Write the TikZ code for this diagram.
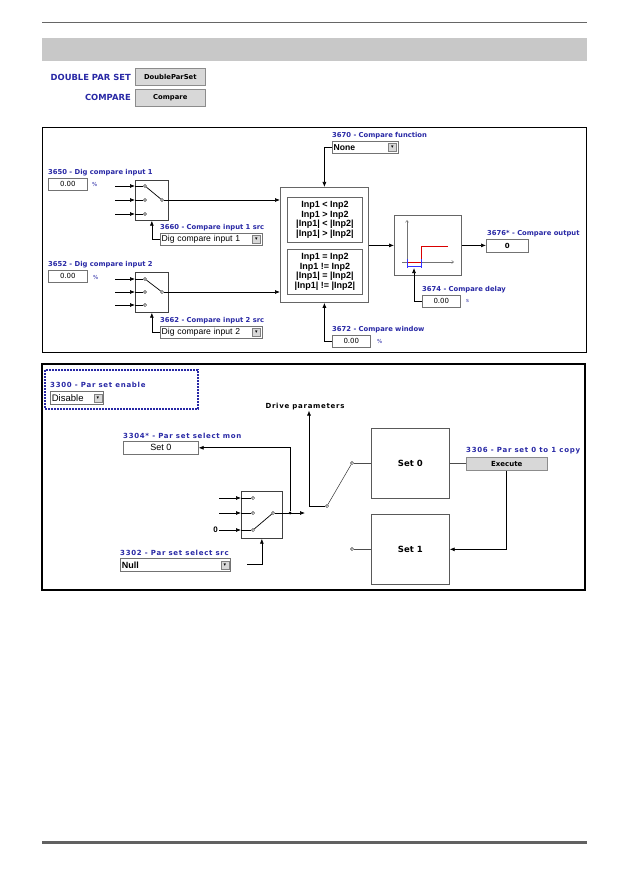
\documentclass[tikz,border=0pt]{standalone}
\usepackage{fontspec}
\setmainfont{DejaVu Sans}
\newfontfamily\arialf{Liberation Sans}
\newfontfamily\widef[LetterSpace=10]{DejaVu Sans}
\usetikzlibrary{arrows.meta}
\definecolor{lblue}{RGB}{40,40,165}
\definecolor{bargray}{RGB}{200,200,200}
\definecolor{btngray}{RGB}{216,216,216}
\tikzset{
  arr/.style={-{Latex[length=5pt,width=4pt]}, line width=0.7pt},
  ln/.style={line width=0.7pt},
  lblA/.style={text=lblue, font=\fontsize{6.8}{7}\selectfont\bfseries, inner sep=0pt},
  lblB/.style={text=lblue, font=\widef\fontsize{7}{8}\selectfont\bfseries, inner sep=0pt},
  unit/.style={text=lblue, font=\fontsize{5.5}{6}\selectfont, inner sep=0pt},
  field/.style={draw=black!55, fill=white, line width=0.6pt, inner sep=0pt, font=\fontsize{7}{8}\selectfont},
  dd/.style={draw=black!55, fill=white, line width=0.6pt, inner sep=0pt, align=left, text width=#1, font=\arialf\fontsize{8.6}{9}\selectfont},
  ddbtn/.style={draw=black!50, fill=btngray, minimum size=8pt, inner sep=0pt, font=\fontsize{5}{5}\selectfont},
  btn/.style={draw=black!45, fill=btngray, line width=0.6pt, inner sep=0pt, font=\fontsize{6.8}{7}\selectfont\bfseries},
  mux/.style={draw=black!75, line width=0.7pt, inner sep=0pt},
  box/.style={draw=black!60, line width=0.8pt, inner sep=0pt},
  ibox/.style={draw=black!60, line width=0.8pt, inner sep=0pt, align=center, font=\arialf\fontsize{9}{9.7}\selectfont\bfseries},
  sbox/.style={draw=black!65, line width=0.7pt, inner sep=0pt, font=\fontsize{8.5}{9}\selectfont\bfseries},
  pin/.style={draw=black!80, fill=white, line width=0.5pt, circle, inner sep=0pt, minimum size=3.2pt},
  hdr/.style={text=lblue, font=\fontsize{8.4}{9}\selectfont\bfseries, inner sep=0pt},
}
\begin{document}
\begin{tikzpicture}[x=1pt,y=-1pt]
\useasboundingbox (0,0) rectangle (629,893);
% page decoration
\draw[black!60, line width=0.8pt] (42,22) -- (587,22);
\fill[bargray] (42,38) rectangle (587,61);
\fill[black!62] (42,841) rectangle (587,844);

% header buttons
\node[hdr, anchor=east] (hdp) at (131,77) {DOUBLE PAR SET};
\node[btn, minimum width=70pt, minimum height=17pt, anchor=north west] (bdp) at (135,68) {DoubleParSet};
\node[hdr, anchor=east] (hcmp) at (131,97.5) {COMPARE};
\node[btn, minimum width=70pt, minimum height=17pt, anchor=north west] (bcmp) at (135,89) {Compare};

%================ diagram 1 =================
\draw[line width=1pt] (42,128) rectangle (586,352);

% input 1
\node[lblA, anchor=south west] (l3650) at (48,176) {3650 - Dig compare input 1};
\node[field, minimum width=39pt, minimum height=12pt, anchor=north west] (f3650) at (48,178) {0.00};
\node[unit, anchor=west] (u3650) at (92,184) {\%};
\node[mux, minimum width=33pt, minimum height=40pt, anchor=north west] (m1) at (135,180) {};
\foreach \yy/\n in {186/a,200/b,214/c}{
  \coordinate (m1s\n) at (115,\yy);
  \node[pin] (m1p\n) at (145,\yy) {};
  \draw[arr] (m1s\n) -- (m1s\n -| m1.west);
  \draw[ln] (m1s\n -| m1.west) -- (m1p\n);
}
\node[pin] (m1o) at (162,200) {};
\draw[ln] (m1pa) -- (m1o);
\node[lblA, anchor=south west] (l3660) at (160,231) {3660 - Compare input 1 src};
\node[dd=102pt, minimum height=12pt, anchor=north west] (d3660) at (160,233) {\,Dig compare input 1};
\node[ddbtn, anchor=east] (d3660b) at ([xshift=-2pt]d3660.east) {▾};
\draw[arr] (d3660.west) -| (m1.south);

% input 2
\node[lblA, anchor=south west] (l3652) at (48,268) {3652 - Dig compare input 2};
\node[field, minimum width=39pt, minimum height=12pt, anchor=north west] (f3652) at (48,270) {0.00};
\node[unit, anchor=west] (u3652) at (93,277) {\%};
\node[mux, minimum width=33pt, minimum height=40pt, anchor=north west] (m2) at (135,272) {};
\foreach \yy/\n in {279/a,292/b,305/c}{
  \coordinate (m2s\n) at (115,\yy);
  \node[pin] (m2p\n) at (145,\yy) {};
  \draw[arr] (m2s\n) -- (m2s\n -| m2.west);
  \draw[ln] (m2s\n -| m2.west) -- (m2p\n);
}
\node[pin] (m2o) at (162,292) {};
\draw[ln] (m2pa) -- (m2o);
\node[lblA, anchor=south west] (l3662) at (160,324) {3662 - Compare input 2 src};
\node[dd=102pt, minimum height=12pt, anchor=north west] (d3662) at (160,326) {\,Dig compare input 2};
\node[ddbtn, anchor=east] (d3662b) at ([xshift=-2pt]d3662.east) {▾};
\draw[arr] (d3662.west) -| (m2.south);

% compare block
\node[box, minimum width=88pt, minimum height=115pt, anchor=north west] (cmp) at (280,187) {};
\node[ibox, minimum width=75pt, minimum height=45pt, anchor=north west] (cmpA) at (287,197)
  {Inp1 < Inp2\\Inp1 > Inp2\\|Inp1| < |Inp2|\\|Inp1| > |Inp2|};
\node[ibox, minimum width=75pt, minimum height=45pt, anchor=north west] (cmpB) at (287,249)
  {Inp1 = Inp2\\Inp1 != Inp2\\|Inp1| = |Inp2|\\|Inp1| != |Inp2|};
\draw[arr] (m1o) -- (m1o -| cmp.west);
\draw[arr] (m2o) -- (m2o -| cmp.west);

\node[lblA, anchor=south west] (l3670) at (332,139) {3670 - Compare function};
\node[dd=66pt, minimum height=12pt, anchor=north west, font=\arialf\fontsize{8.6}{9}\selectfont\bfseries] (d3670) at (332,141) {\,None};
\node[ddbtn, anchor=east] (d3670b) at ([xshift=-2pt]d3670.east) {▾};
\draw[arr] (d3670.west) -| (cmp.north);

\node[lblA, anchor=south west] (l3672) at (332,333) {3672 - Compare window};
\node[field, minimum width=38pt, minimum height=12pt, anchor=north west] (f3672) at (332,335) {0.00};
\node[unit, anchor=west] (u3672) at (377,341) {\%};
\draw[arr] (f3672.west) -| (cmp.south);

% delay graph
\node[box, minimum width=67pt, minimum height=60pt, anchor=north west] (gr) at (394,215) {};
\draw[arr] (cmp.east |- gr.west) -- (gr.west);
\draw[black!55, line width=0.5pt, -{Straight Barb[length=2pt,width=3pt]}] (407,265) -- (407,220);
\draw[black!55, line width=0.5pt, -{Straight Barb[length=2pt,width=3pt]}] (402,262) -- (454,262);
\draw[red!85!black, line width=1pt] (407,262) -- (421,262) -- (421,246) -- (448,246);
\draw[blue!80, line width=1pt] (407,259) -- (407,268) (407,266.5) -- (421,266.5) (421,259) -- (421,268);
\coordinate (grin) at (414,268);
\node[lblA, anchor=south west] (l3674) at (422,293) {3674 - Compare delay};
\node[field, minimum width=38pt, minimum height=12pt, anchor=north west] (f3674) at (422,295) {0.00};
\node[unit, anchor=west] (u3674) at (466,301) {s};
\draw[arr] (f3674.west) -| (grin);

\node[lblA, anchor=south west] (l3676) at (487,237) {3676* - Compare output};
\node[field, minimum width=42pt, minimum height=13pt, anchor=north west, font=\fontsize{7}{8}\selectfont\bfseries] (o3676) at (486,239) {0};
\draw[arr] (gr.east) -- (gr.east -| o3676.west);

%================ diagram 2 =================
\draw[line width=1.8pt] (42,364) rectangle (585,590);
\draw[lblue, line width=1.1pt, dash pattern=on 2pt off 1pt] (45,370) rectangle (198,409);
\node[lblB, anchor=south west] (l3300) at (50,388) {3300 - Par set enable};
\node[dd=53pt, minimum height=13pt, anchor=north west, font=\arialf\fontsize{9.5}{10}\selectfont] (d3300) at (50,391) {\,Disable};
\node[ddbtn, anchor=east] (d3300b) at ([xshift=-1.5pt]d3300.east) {▾};

\node[font=\widef\fontsize{7}{8}\selectfont\bfseries, inner sep=0pt] (dp) at (305,407) {Drive parameters};
\coordinate (dpb) at (309,506);
\draw[arr] (dpb) -- (dpb |- dp.south);

\node[lblB, anchor=south west] (l3304) at (123,439) {3304* - Par set select mon};
\node[field, minimum width=75pt, minimum height=13pt, anchor=north west, font=\arialf\fontsize{9}{10}\selectfont] (f3304) at (123,441) {Set 0};

\node[mux, minimum width=41pt, minimum height=47pt, anchor=north west] (m3) at (241,491) {};
\foreach \yy/\n in {498/a,513/b,530/c}{
  \coordinate (m3s\n) at (219,\yy);
  \node[pin] (m3p\n) at (253,\yy) {};
  \draw[arr] (m3s\n) -- (m3s\n -| m3.west);
  \draw[ln] (m3s\n -| m3.west) -- (m3p\n);
}
\node[font=\arialf\fontsize{8}{9}\selectfont\bfseries, inner sep=0pt, anchor=east] (zero) at (218,530) {0};
\node[pin] (m3o) at (273,513) {};
\draw[ln] (m3pc) -- (m3o);
\node[circle, fill=black, inner sep=0pt, minimum size=3pt] (jd) at (290,513) {};
\coordinate (m3end) at (305,513);
\draw[arr] (m3o) -- (m3end);
\draw[arr] (jd) |- (f3304.east);

\node[lblB, anchor=south west] (l3302) at (120,556) {3302 - Par set select src};
\node[dd=110pt, minimum height=13pt, anchor=north west, font=\arialf\fontsize{9}{10}\selectfont\bfseries] (d3302) at (120,558) {\,Null};
\node[ddbtn, anchor=east] (d3302b) at ([xshift=-1.5pt]d3302.east) {▾};
\coordinate (srcl) at (247,564.5);
\draw[arr] (srcl) -| (m3.south);

% set boxes and switch
\node[sbox, minimum width=78pt, minimum height=70pt, anchor=north west] (s0) at (371,428) {Set 0};
\node[sbox, minimum width=78pt, minimum height=70pt, anchor=north west] (s1) at (371,514) {Set 1};
\node[pin] (swb) at (327,506) {};
\node[pin] (swa) at (352,463) {};
\node[pin] (swc) at (352,549) {};
\draw[ln] (dpb) -- (swb);
\draw[ln, black!80, line width=0.5pt] (swb) -- (swa);
\draw[ln, black!70] (swa) -- (swa -| s0.west);
\draw[ln, black!70] (swc) -- (swc -| s1.west);

\node[lblB, anchor=south west] (l3306) at (466,454) {3306 - Par set 0 to 1 copy};
\node[btn, minimum width=81pt, minimum height=13pt, anchor=north west, font=\fontsize{7}{8}\selectfont\bfseries] (ex) at (466,457) {Execute};
\draw[ln, black!70] (s0.east) -- (s0.east -| ex.west);
\draw[arr] (ex.south) |- (s1.east);
\end{tikzpicture}
\end{document}
